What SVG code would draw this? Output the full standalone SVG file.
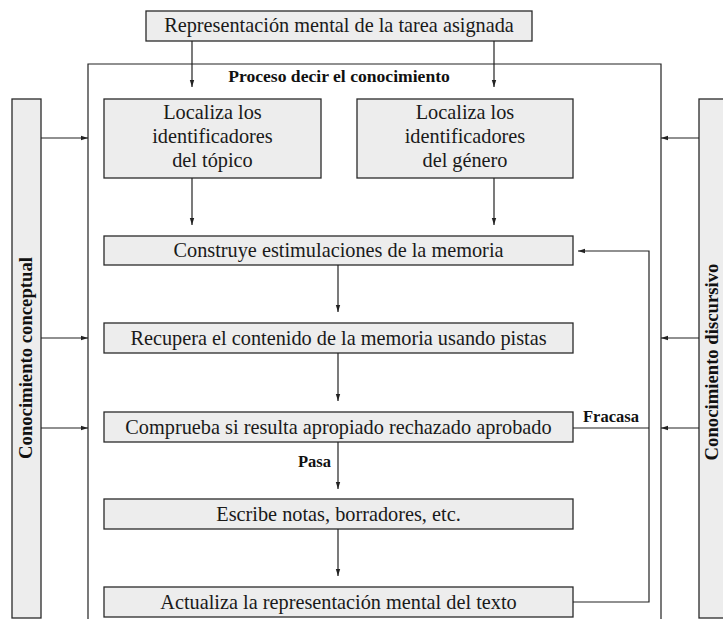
<svg xmlns="http://www.w3.org/2000/svg" width="723" height="619" viewBox="0 0 723 619">
<defs>
<marker id="ah" markerWidth="8" markerHeight="6" refX="7" refY="3" orient="auto" markerUnits="userSpaceOnUse">
<path d="M0,0.8 L7,3 L0,5.2 Z" fill="#222"/>
</marker>
<style>
.box{fill:#ededed;stroke:#2a2a2a;stroke-width:1.3}
.t{font-family:"Liberation Serif","Times New Roman",serif;font-size:20.3px;fill:#1a1a1a;text-anchor:middle}
.b{font-family:"Liberation Serif","Times New Roman",serif;font-size:16.5px;font-weight:bold;fill:#111}
.s{font-size:18.7px}
.p{font-size:17.6px}
.c{fill:none;stroke:#222;stroke-width:1.2}
</style>
</defs>
<rect width="723" height="619" fill="#fff"/>
<g id="frame"><path class="c" d="M88,619 V64 H661 V619" stroke-width="1.3"/>
<text class="b p" x="339" y="82" text-anchor="middle">Proceso decir el conocimiento</text></g>
<g id="n-top"><rect class="box" x="146" y="11" width="386" height="30"/><text class="t" x="339" y="32">Representación mental de la tarea asignada</text></g>
<g id="n-conceptual"><rect class="box" x="12" y="99" width="29" height="519"/><text class="b s" transform="translate(32,358) rotate(-90)" text-anchor="middle">Conocimiento conceptual</text></g>
<g id="n-discursivo"><rect class="box" x="699" y="99" width="40" height="519"/><text class="b s" transform="translate(718,362) rotate(-90)" text-anchor="middle">Conocimiento discursivo</text></g>
<g id="n-topico"><rect class="box" x="104" y="99" width="217" height="79"/><text class="t" x="212.5" y="119">Localiza los</text><text class="t" x="212.5" y="143">identificadores</text><text class="t" x="212.5" y="167">del tópico</text></g>
<g id="n-genero"><rect class="box" x="357" y="99" width="216" height="79"/><text class="t" x="465" y="119">Localiza los</text><text class="t" x="465" y="143">identificadores</text><text class="t" x="465" y="167">del género</text></g>
<g id="n-construye"><rect class="box" x="104" y="236" width="469" height="29"/><text class="t" x="338.5" y="257">Construye estimulaciones de la memoria</text></g>
<g id="n-recupera"><rect class="box" x="104" y="323" width="469" height="30"/><text class="t" x="338.5" y="345">Recupera el contenido de la memoria usando pistas</text></g>
<g id="n-comprueba"><rect class="box" x="104" y="412" width="469" height="30"/><text class="t" x="338.5" y="434">Comprueba si resulta apropiado rechazado aprobado</text></g>
<g id="n-escribe"><rect class="box" x="104" y="499" width="469" height="30"/><text class="t" x="338.5" y="521">Escribe notas, borradores, etc.</text></g>
<g id="n-actualiza"><rect class="box" x="104" y="587" width="469" height="30"/><text class="t" x="338.5" y="609">Actualiza la representación mental del texto</text></g>
<g id="connectors">
<line class="c" x1="192" y1="41" x2="192" y2="87" marker-end="url(#ah)"/>
<line class="c" x1="494" y1="41" x2="494" y2="87" marker-end="url(#ah)"/>
<line class="c" x1="192" y1="178" x2="192" y2="225" marker-end="url(#ah)"/>
<line class="c" x1="494" y1="178" x2="494" y2="225" marker-end="url(#ah)"/>
<line class="c" x1="338" y1="265" x2="338" y2="312" marker-end="url(#ah)"/>
<line class="c" x1="338" y1="353" x2="338" y2="401" marker-end="url(#ah)"/>
<line class="c" x1="338" y1="442" x2="338" y2="489" marker-end="url(#ah)"/>
<line class="c" x1="338" y1="529" x2="338" y2="576" marker-end="url(#ah)"/>
<line class="c" x1="41" y1="138" x2="88" y2="138" marker-end="url(#ah)"/>
<line class="c" x1="41" y1="338" x2="88" y2="338" marker-end="url(#ah)"/>
<line class="c" x1="41" y1="428" x2="88" y2="428" marker-end="url(#ah)"/>
<line class="c" x1="699" y1="138" x2="661" y2="138" marker-end="url(#ah)"/>
<line class="c" x1="699" y1="338" x2="661" y2="338" marker-end="url(#ah)"/>
<line class="c" x1="699" y1="428" x2="661" y2="428" marker-end="url(#ah)"/>
<polyline class="c" points="573,602 649,602 649,251 578,251" marker-end="url(#ah)"/>
<line class="c" x1="573" y1="428" x2="649" y2="428"/>
<text class="b" x="583" y="422">Fracasa</text>
<text class="b" x="298" y="467">Pasa</text>
</g>
</svg>
